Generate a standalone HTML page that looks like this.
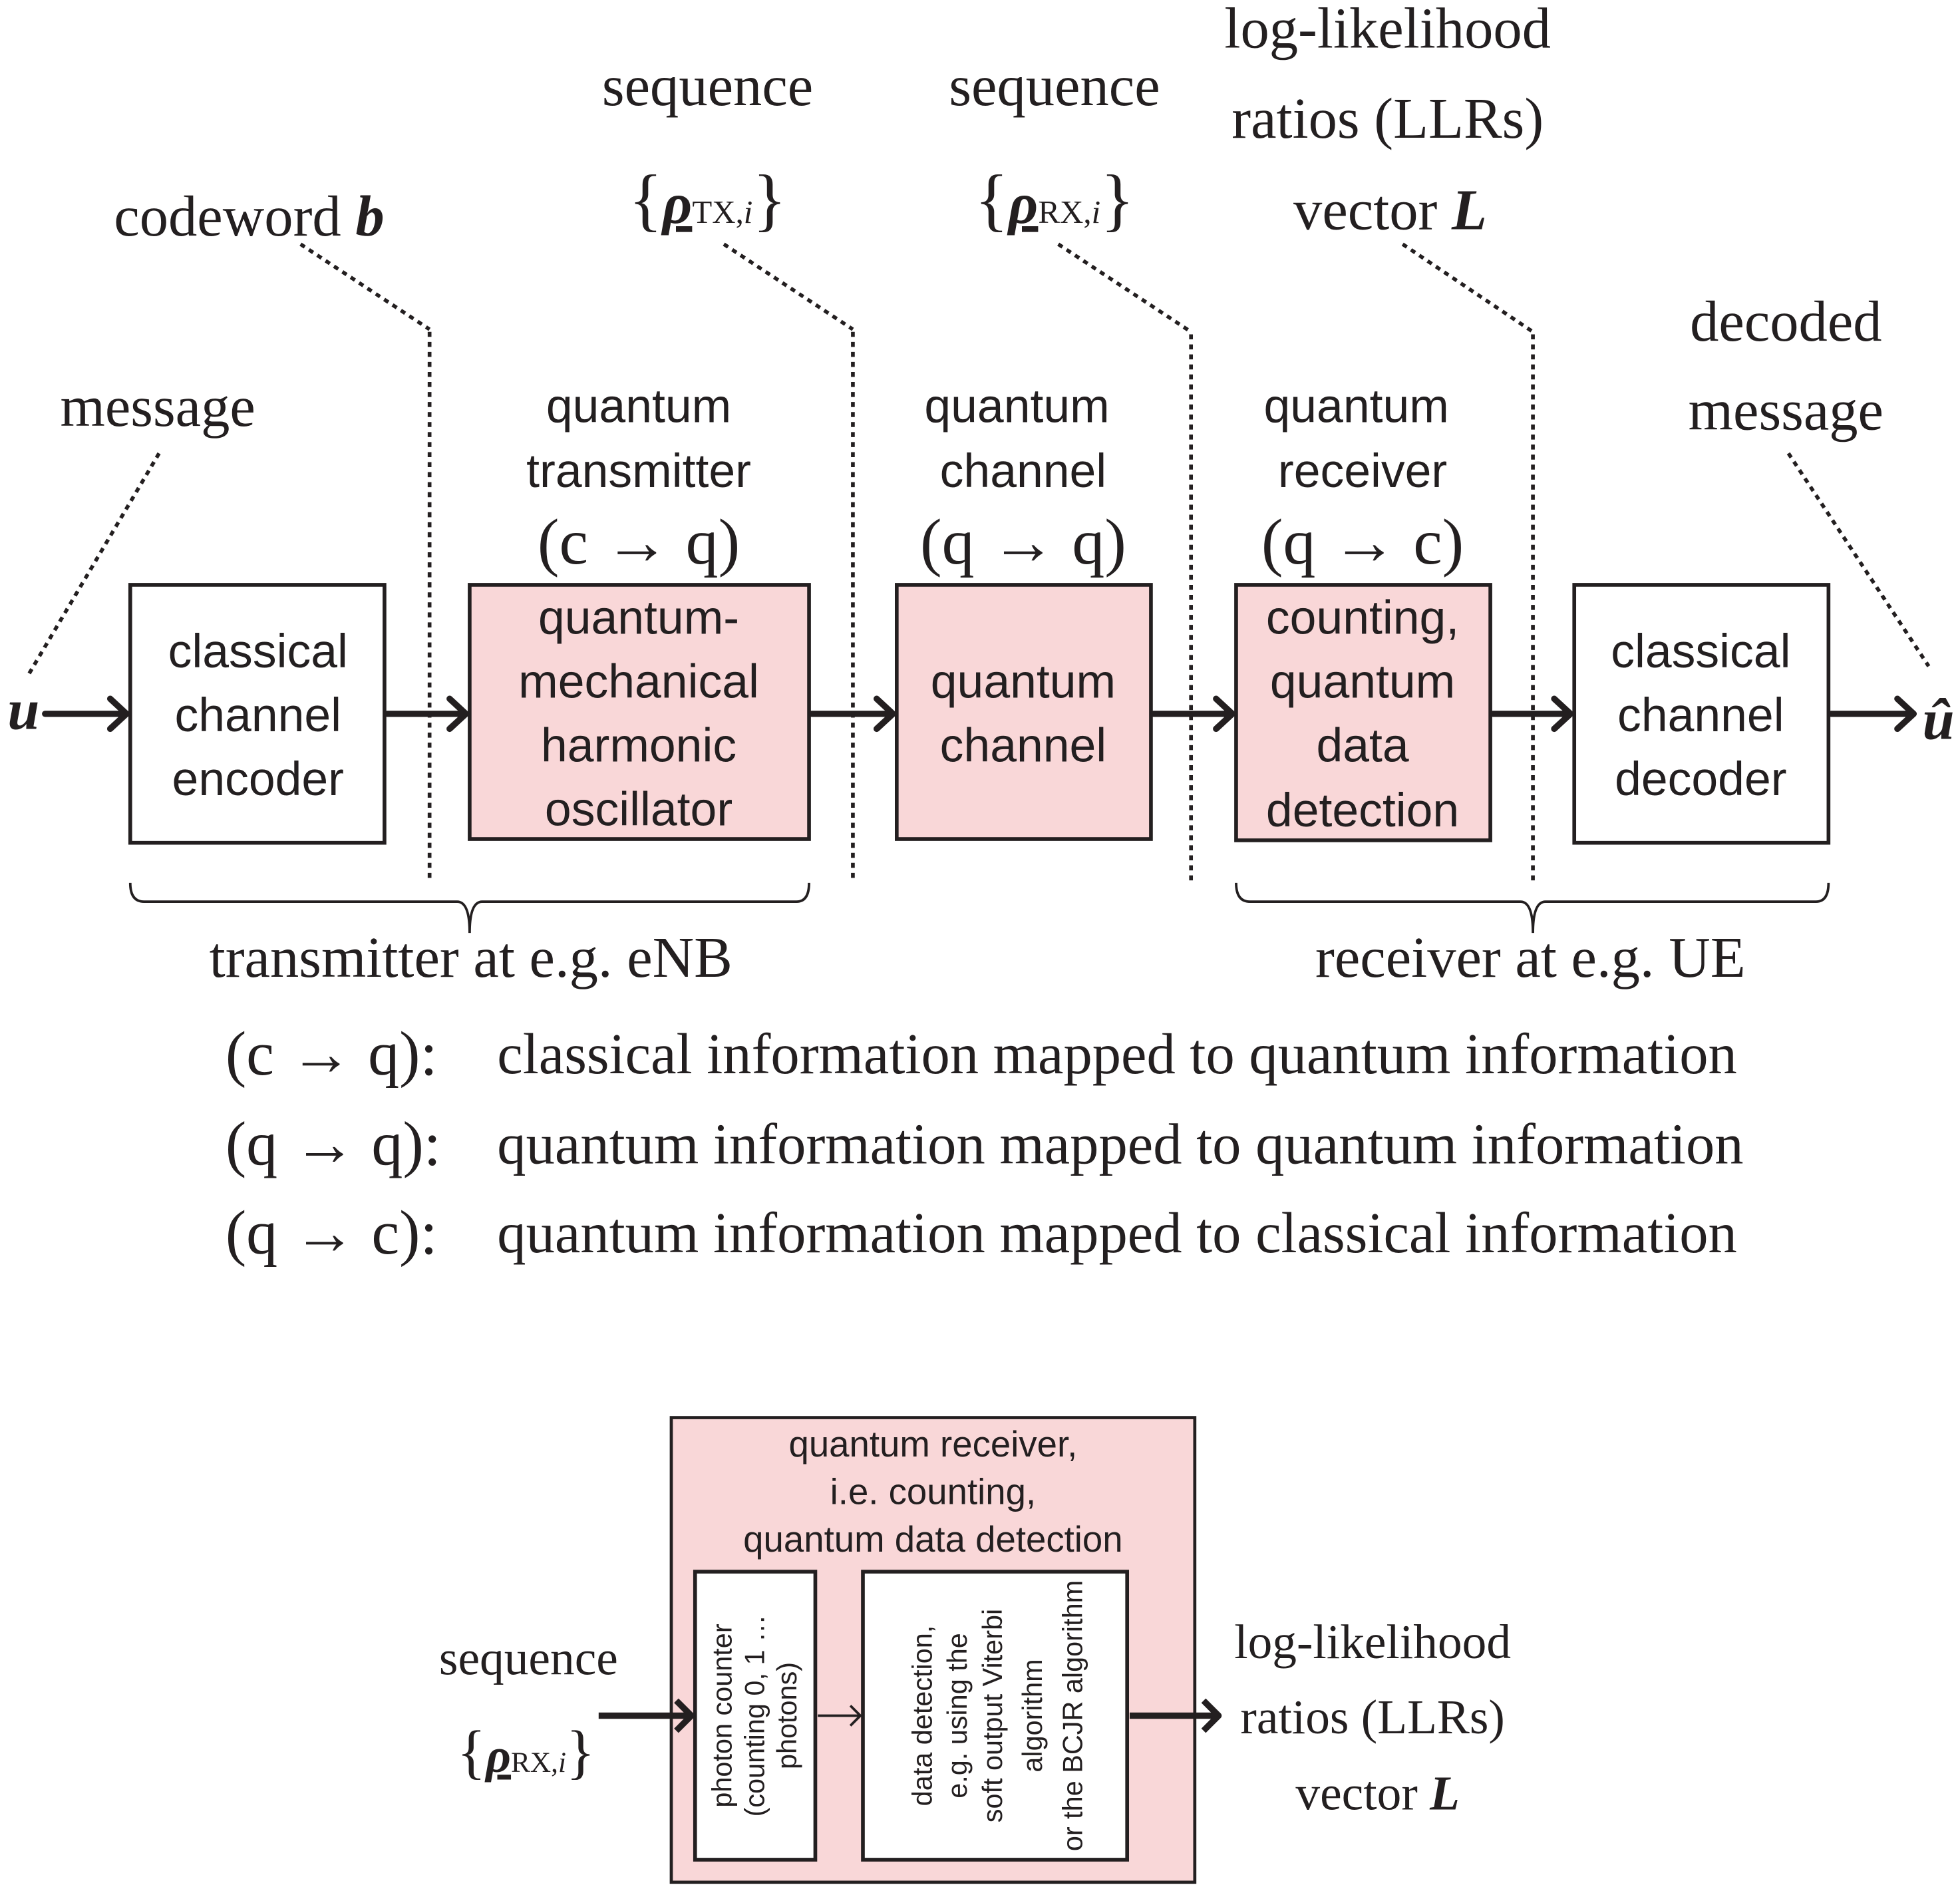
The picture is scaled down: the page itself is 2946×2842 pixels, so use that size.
<!DOCTYPE html>
<html><head><meta charset="utf-8"><style>
html,body{margin:0;padding:0;background:#fff;}
svg{display:block;}
.s{font-family:"Liberation Serif",serif;fill:#231f20;}
.a{font-family:"Liberation Sans",sans-serif;fill:#231f20;}
</style></head><body>
<svg width="2946" height="2842" viewBox="0 0 1565 1510" preserveAspectRatio="none" xmlns="http://www.w3.org/2000/svg">
<g stroke="#231f20" fill="none">
<rect x="104" y="467" width="203" height="206" fill="#fff" stroke-width="3"/>
<rect x="375" y="467" width="271" height="203" fill="#f9d7d8" stroke-width="3"/>
<rect x="716" y="467" width="203" height="203" fill="#f9d7d8" stroke-width="3"/>
<rect x="987" y="467" width="203" height="204" fill="#f9d7d8" stroke-width="3"/>
<rect x="1257" y="467" width="203" height="206" fill="#fff" stroke-width="3"/>
<g stroke-width="5" stroke-linecap="round" stroke-linejoin="round">
<path d="M36 570H101M88 558L101 570L88 582"/>
<path d="M309 570H372M359 558L372 570L359 582"/>
<path d="M648 570H713M700 558L713 570L700 582"/>
<path d="M921 570H984M971 558L984 570L971 582"/>
<path d="M1192 570H1254M1241 558L1254 570L1241 582"/>
<path d="M1462 570H1528M1515 558L1528 570L1515 582"/>
</g>
<g stroke-width="3" stroke-dasharray="4 4">
<path d="M343 265V703M240 195L343 263"/>
<path d="M681 265V703M578 195L681 263"/>
<path d="M951 267V703M845 195L951 265"/>
<path d="M1224 267V703M1120 195L1224 265"/>
<path d="M127 362L22 540"/>
<path d="M1428 362L1540 532"/>
</g>
<g stroke-width="2">
<path d="M104 705Q104 720 115 720H365Q375 720 375 745Q375 720 385 720H636Q646 720 646 705"/>
<path d="M987 705Q987 720 998 720H1214Q1224 720 1224 745Q1224 720 1234 720H1450Q1460 720 1460 705"/>
</g>
<rect x="536" y="1132" width="418" height="371" fill="#f9d7d8" stroke-width="2.5"/>
<rect x="555" y="1255" width="96" height="230" fill="#fff" stroke-width="3"/>
<rect x="689" y="1255" width="211" height="230" fill="#fff" stroke-width="3"/>
<path d="M478 1370H552M540 1358L552 1370L540 1382" stroke-width="5" stroke-linejoin="round"/>
<path d="M653 1370H687M679 1362L687 1370L679 1378" stroke-width="2"/>
<path d="M902 1370H973M961 1358L973 1370L961 1382" stroke-width="5" stroke-linejoin="round"/>
</g>
<g class="s" font-size="46">
<text x="91" y="188">codeword <tspan font-weight="bold" font-style="italic">b</tspan></text>
<text x="565" y="84" text-anchor="middle">sequence</text>
<text x="565" y="178" text-anchor="middle"><tspan font-size="56">{</tspan><tspan font-weight="bold" font-style="italic" text-decoration="underline">ρ</tspan><tspan font-size="26">TX,<tspan font-style="italic">i</tspan></tspan><tspan font-size="56">}</tspan></text>
<text x="842" y="84" text-anchor="middle">sequence</text>
<text x="842" y="178" text-anchor="middle"><tspan font-size="56">{</tspan><tspan font-weight="bold" font-style="italic" text-decoration="underline">ρ</tspan><tspan font-size="26">RX,<tspan font-style="italic">i</tspan></tspan><tspan font-size="56">}</tspan></text>
<text x="1108" y="38" text-anchor="middle">log-likelihood</text>
<text x="1108" y="110" text-anchor="middle">ratios (LLRs)</text>
<text x="1110" y="183" text-anchor="middle">vector <tspan font-weight="bold" font-style="italic">L</tspan></text>
<text x="126" y="340" text-anchor="middle">message</text>
<text x="1426" y="272" text-anchor="middle">decoded</text>
<text x="1426" y="343" text-anchor="middle">message</text>
<text x="6" y="582" font-weight="bold" font-style="italic">u</text>
<text x="1535" y="590" font-weight="bold" font-style="italic">û</text>
<text x="510" y="450" text-anchor="middle" font-size="52">(c → q)</text>
<text x="817" y="450" text-anchor="middle" font-size="52">(q → q)</text>
<text x="1088" y="450" text-anchor="middle" font-size="52">(q → c)</text>
<text x="376" y="780" text-anchor="middle">transmitter at e.g. eNB</text>
<text x="1222" y="780" text-anchor="middle">receiver at e.g. UE</text>
<text x="180" y="858" font-size="50">(c → q):</text>
<text x="397" y="857">classical information mapped to quantum information</text>
<text x="180" y="930" font-size="50">(q → q):</text>
<text x="397" y="929">quantum information mapped to quantum information</text>
<text x="180" y="1001" font-size="50">(q → c):</text>
<text x="397" y="1000">quantum information mapped to classical information</text>
<text x="422" y="1337" text-anchor="middle" font-size="39">sequence</text>
<text x="420" y="1415" text-anchor="middle" font-size="39"><tspan font-size="48">{</tspan><tspan font-weight="bold" font-style="italic" text-decoration="underline">ρ</tspan><tspan font-size="23">RX,<tspan font-style="italic">i</tspan></tspan><tspan font-size="48">}</tspan></text>
<text x="1096" y="1324" text-anchor="middle" font-size="39">log-likelihood</text>
<text x="1096" y="1384" text-anchor="middle" font-size="39">ratios (LLRs)</text>
<text x="1100" y="1445" text-anchor="middle" font-size="39">vector <tspan font-weight="bold" font-style="italic">L</tspan></text>
</g>
<g class="a" font-size="38" text-anchor="middle">
<text x="510" y="337">quantum</text>
<text x="510" y="389">transmitter</text>
<text x="812" y="337">quantum</text>
<text x="817" y="389">channel</text>
<text x="1083" y="337">quantum</text>
<text x="1088" y="389">receiver</text>
<text x="206" y="533">classical</text>
<text x="206" y="584">channel</text>
<text x="206" y="635">encoder</text>
<text x="510" y="506">quantum-</text>
<text x="510" y="557">mechanical</text>
<text x="510" y="608">harmonic</text>
<text x="510" y="659">oscillator</text>
<text x="817" y="557">quantum</text>
<text x="817" y="608">channel</text>
<text x="1088" y="506">counting,</text>
<text x="1088" y="557">quantum</text>
<text x="1088" y="608">data</text>
<text x="1088" y="660">detection</text>
<text x="1358" y="533">classical</text>
<text x="1358" y="584">channel</text>
<text x="1358" y="635">decoder</text>
<g font-size="29">
<text x="745" y="1163">quantum receiver,</text>
<text x="745" y="1201">i.e. counting,</text>
<text x="745" y="1239">quantum data detection</text>
</g>
<g font-size="22">
<text transform="translate(584,1370) rotate(-90)">photon counter</text>
<text transform="translate(610,1370) rotate(-90)">(counting 0, 1 …</text>
<text transform="translate(636,1370) rotate(-90)">photons)</text>
<text transform="translate(744,1370) rotate(-90)">data detection,</text>
<text transform="translate(772,1370) rotate(-90)">e.g. using the</text>
<text transform="translate(800,1370) rotate(-90)">soft output Viterbi</text>
<text transform="translate(832,1370) rotate(-90)">algorithm</text>
<text transform="translate(864,1370) rotate(-90)">or the BCJR algorithm</text>
</g>
</g>
</svg>
</body></html>
